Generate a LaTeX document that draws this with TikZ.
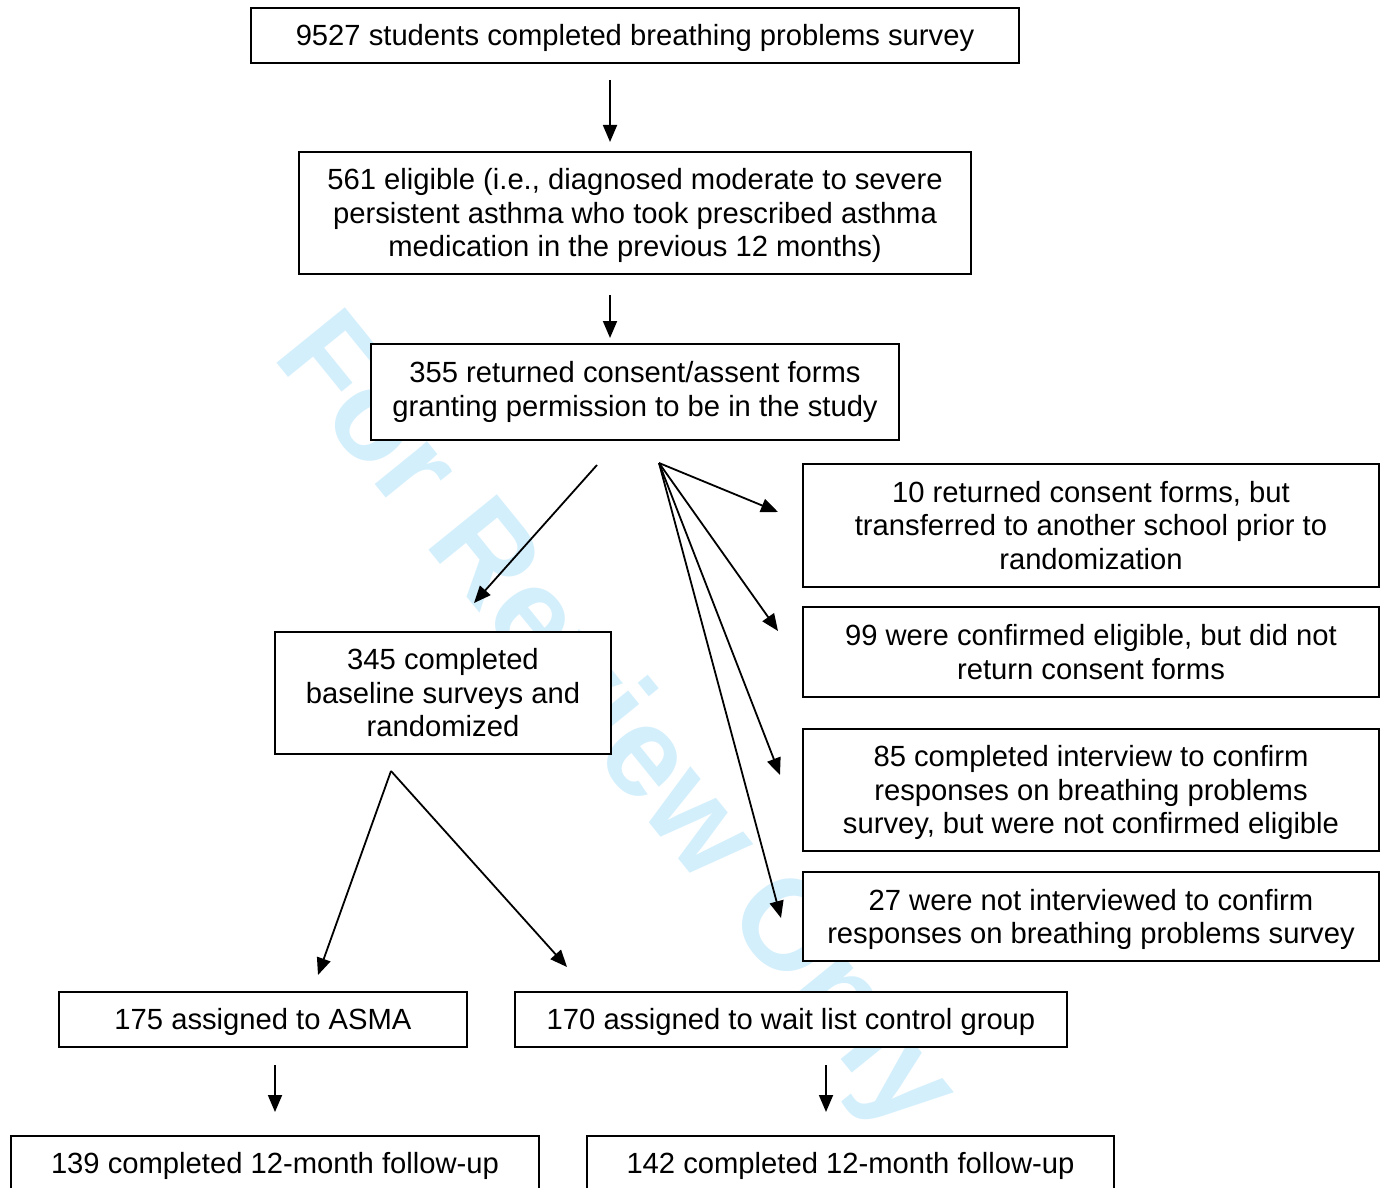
\documentclass[tikz,border=0pt]{standalone}
\usepackage{fontspec}
\setmainfont{Liberation Sans}
\usetikzlibrary{arrows.meta}
\definecolor{wm}{RGB}{212,239,252}
\newcommand\bxt[2][3.6pt]{\raisebox{-#1}[\height][\depth]{\begin{tabular}{@{}c@{}}#2\end{tabular}}}
\tikzset{
  box/.style={draw, fill=white, line width=1.8pt, inner sep=0pt,
    font=\fontsize{29.2}{33.5}\selectfont},
  arr/.style={line width=1.8pt, -{Triangle[length=17pt,width=14pt]}}
}
\begin{document}
\begin{tikzpicture}[x=1pt,y=-1pt]
\useasboundingbox (0,0) rectangle (1384,1188);
% watermark
\node[rotate=-51, anchor=base west, text=wm, inner sep=0pt,
  font=\fontsize{128}{128}\bfseries\selectfont] (wmk) at (271,356) {For Review Only};
% boxes
\node[box, minimum width=768pt, minimum height=55pt] (b1) at (635,35.5)
  {\bxt{9527 students completed breathing problems survey}};
\node[box, minimum width=672pt, minimum height=122pt] (b2) at (635,213)
  {\bxt{561 eligible (i.e., diagnosed moderate to severe\\persistent asthma who took prescribed asthma\\medication in the previous 12 months)}};
\node[box, minimum width=528pt, minimum height=96pt] (b3) at (635,392)
  {\bxt[0.8pt]{355 returned consent/assent forms\\granting permission to be in the study}};
\node[box, minimum width=576pt, minimum height=123pt] (r1) at (1091,525.5)
  {\bxt{10 returned consent forms, but\\transferred to another school prior to\\randomization}};
\node[box, minimum width=576pt, minimum height=90pt] (r2) at (1091,652)
  {\bxt{99 were confirmed eligible, but did not\\return consent forms}};
\node[box, minimum width=576pt, minimum height=122pt] (r3) at (1091,790)
  {\bxt{85 completed interview to confirm\\responses on breathing problems\\survey, but were not confirmed eligible}};
\node[box, minimum width=576pt, minimum height=89pt] (r4) at (1091,916.5)
  {\bxt{27 were not interviewed to confirm\\responses on breathing problems survey}};
\node[box, minimum width=336pt, minimum height=122pt] (lb) at (443,693)
  {\bxt{345 completed\\baseline surveys and\\randomized}};
\node[box, minimum width=408pt, minimum height=55pt] (ga) at (263,1019.5)
  {\bxt{175 assigned to ASMA}};
\node[box, minimum width=552pt, minimum height=55pt] (gw) at (791,1019.5)
  {\bxt{170 assigned to wait list control group}};
\node[box, minimum width=528pt, minimum height=55pt] (fa) at (275,1163.5)
  {\bxt{139 completed 12-month follow-up}};
\node[box, minimum width=527pt, minimum height=55pt] (fw) at (850.5,1163.5)
  {\bxt{142 completed 12-month follow-up}};
% connector points
\coordinate (a1s) at (610,80);  \coordinate (a1e) at (610,142);
\coordinate (a2s) at (610,295); \coordinate (a2e) at (610,338);
\coordinate (a3s) at (597,465); \coordinate (a3e) at (474,603);
\coordinate (fan) at (659,463);
\coordinate (f1) at (778,512); \coordinate (f2) at (778,631);
\coordinate (f3) at (780,775); \coordinate (f4) at (781,918);
\coordinate (spl) at (391,771);
\coordinate (s1) at (318,975); \coordinate (s2) at (567,967);
\coordinate (a4s) at (275,1065); \coordinate (a4e) at (275,1112);
\coordinate (a5s) at (826,1065); \coordinate (a5e) at (826,1112);
% arrows
\draw[arr] (a1s) -- (a1e);
\draw[arr] (a2s) -- (a2e);
\draw[arr] (a3s) -- (a3e);
\draw[arr] (fan) -- (f1);
\draw[arr] (fan) -- (f2);
\draw[arr] (fan) -- (f3);
\draw[arr] (fan) -- (f4);
\draw[arr] (spl) -- (s1);
\draw[arr] (spl) -- (s2);
\draw[arr] (a4s) -- (a4e);
\draw[arr] (a5s) -- (a5e);
\end{tikzpicture}
\end{document}
